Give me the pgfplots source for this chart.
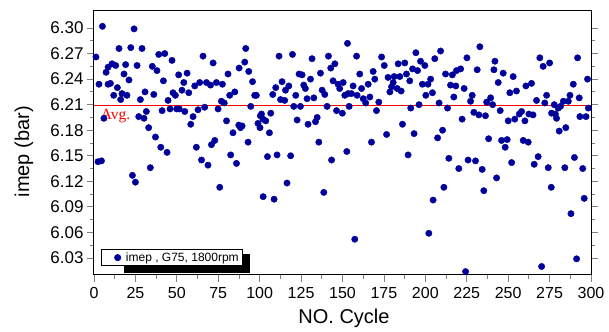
\documentclass[border=0pt]{standalone}
\usepackage{pgfplots}
\pgfplotsset{compat=1.18}
\usepackage{fontspec}
\setmainfont{Liberation Sans}
\newfontfamily\avgfont{Liberation Serif}
\definecolor{dotblue}{RGB}{0,0,155}
\begin{document}
\begin{tikzpicture}
\path (-94pt,-55pt) rectangle (515pt,275pt);
\begin{axis}[
  at={(0,0)}, anchor=south west,
  scale only axis, width=497pt, height=264pt,
  xmin=0, xmax=300, ymin=6.01, ymax=6.32,
  xtick={0,25,...,300},
  ytick={6.03,6.06,6.09,6.12,6.15,6.18,6.21,6.24,6.27,6.30},
  minor x tick num=1, minor y tick num=1,
  tick align=outside,
  xtick pos=left, ytick pos=both,
  major tick length=7pt, minor tick length=4pt,
  tick style={line width=0.8pt},
  axis line style={line width=1pt},
  /pgf/number format/assume math mode=true,
  yticklabel style={font=\fontsize{17}{20}\selectfont, /pgf/number format/.cd, fixed, fixed zerofill, precision=2},
  yticklabel pos=left,
  xticklabel style={font=\fontsize{16}{19}\selectfont, yshift=-2pt},
  xlabel={NO. Cycle}, ylabel={imep (bar)},
  label style={font=\fontsize{20}{23}\selectfont},
  xlabel style={at={(axis description cs:0.503,-0.165)}, anchor=center},
  ylabel style={at={(axis description cs:-0.141,0.467)}, anchor=center},
  legend style={at={(axis description cs:0.2998,0.034)}, anchor=south east,
    draw=black, line width=0.6pt, fill=white,
    font=\fontsize{12}{14}\selectfont, inner xsep=2pt, inner ysep=0.5pt,
    nodes={inner ysep=2.5pt},
    legend cell align=left},
  legend image code/.code={\path[draw=none] (0pt,0pt) -- (21pt,0pt); \draw[mark repeat=1,#1] plot coordinates {(14.7pt,0pt)};},
]
\fill[black] (axis description cs:0.06,0.0087) rectangle (axis description cs:0.3133,0.08);
\addplot [only marks, mark=*, mark size=3.2pt, color=dotblue] coordinates {
(1.2,6.266) (2.4,6.143) (3.0,6.234) (4.5,6.144) (5.1,6.302) (6.0,6.194) (7.3,6.248) (8.5,6.254)
(8.5,6.234) (9.9,6.235) (10.9,6.258) (11.9,6.221) (13.1,6.256) (14.1,6.230) (15.1,6.276) (16.1,6.216)
(16.9,6.223) (18.1,6.246) (19.1,6.257) (19.9,6.221) (21.1,6.239) (22.2,6.277) (23.2,6.127) (24.2,6.299)
(25.0,6.119) (26.0,6.256) (27.0,6.196) (28.0,6.216) (29.0,6.276) (30.2,6.194) (30.8,6.225) (31.6,6.202)
(33.0,6.183) (34.0,6.136) (35.2,6.255) (36.1,6.222) (37.1,6.172) (38.0,6.250) (39.1,6.269) (40.3,6.160)
(41.1,6.203) (41.9,6.238) (42.7,6.270) (44.1,6.154) (44.7,6.215) (45.9,6.205) (47.1,6.262) (47.7,6.224)
(49.1,6.221) (49.9,6.205) (51.1,6.245)
(51.5,6.205) (53.1,6.227) (54.2,6.236) (54.8,6.202) (56.2,6.247) (57.2,6.224) (58.4,6.187) (59.8,6.196)
(60.8,6.232) (61.8,6.160) (62.8,6.204) (63.8,6.236) (64.9,6.145) (65.8,6.267) (66.8,6.207) (67.9,6.236)
(68.8,6.139) (70.3,6.233) (70.9,6.163) (71.9,6.259) (72.9,6.168) (73.9,6.236) (74.9,6.205) (75.9,6.113)
(76.9,6.214) (77.5,6.234) (78.6,6.212) (80.0,6.191) (80.9,6.246) (81.9,6.221) (82.5,6.151) (83.9,6.177)
(85.0,6.225) (86.0,6.141) (87.4,6.186) (87.6,6.253) (88.4,6.183) (89.4,6.185) (91.0,6.260) (91.6,6.276)
(93.0,6.166) (93.4,6.249) (94.6,6.208) (95.7,6.237) (97.0,6.221) (98.0,6.221) (99.0,6.188) (100.4,6.197)
(102.0,6.193) (102.1,6.102)
(100.2,6.183) (101.1,6.199) (103.7,6.191) (104.7,6.149) (105.9,6.177) (106.7,6.200) (107.9,6.222) (108.7,6.099)
(109.7,6.230) (110.5,6.151) (111.7,6.267) (112.6,6.216) (113.5,6.237) (115.1,6.215) (115.6,6.227) (116.5,6.118)
(117.6,6.232) (118.7,6.150) (119.8,6.269) (120.6,6.208) (121.8,6.221) (122.6,6.192) (123.8,6.246) (124.6,6.208)
(125.6,6.245) (126.6,6.233) (127.6,6.229) (128.6,6.217) (129.2,6.187) (130.7,6.240) (131.6,6.264) (132.7,6.218)
(133.7,6.190) (134.7,6.195) (135.7,6.166) (136.7,6.247) (137.7,6.227) (138.7,6.107) (139.3,6.222) (140.7,6.208)
(141.5,6.267) (142.9,6.253) (143.4,6.145) (144.3,6.238) (145.4,6.258) (146.4,6.203) (147.3,6.234) (148.3,6.229)
(149.9,6.200) (150.4,6.236) (151.4,6.221) (152.6,6.155) (153.0,6.282) (153.4,6.223) (154.0,6.208)
(155.4,6.223) (156.4,6.232) (157.4,6.052) (158.5,6.267) (158.8,6.221) (160.4,6.246) (161.5,6.229) (162.5,6.217)
(164.0,6.212) (165.5,6.234) (166.5,6.219) (167.5,6.166) (168.5,6.249) (169.5,6.240) (170.5,6.203) (171.9,6.213)
(173.6,6.266) (175.2,6.256) (176.6,6.175) (177.5,6.242) (178.6,6.225) (179.6,6.231) (180.6,6.236) (181.2,6.243)
(183.0,6.229) (183.6,6.258) (184.6,6.243) (185.4,6.226) (186.2,6.187) (187.6,6.259) (188.6,6.246) (189.6,6.151)
(190.6,6.238) (191.2,6.206) (192.3,6.252) (193.2,6.176) (194.3,6.271) (195.3,6.250) (196.2,6.210) (197.1,6.261)
(198.2,6.234) (199.7,6.256) (200.3,6.221) (201.6,6.234) (202.1,6.059) (203.2,6.240) (204.3,6.224) (204.7,6.098)
(205.7,6.264)
(207.4,6.171) (208.3,6.212) (209.2,6.273) (210.4,6.180) (211.2,6.113) (212.2,6.246) (213.4,6.206) (214.2,6.147)
(215.2,6.233) (216.3,6.245) (217.2,6.219) (218.4,6.232) (218.8,6.250) (220.2,6.135) (221.3,6.252) (222.2,6.193)
(223.4,6.229) (224.3,6.014) (225.1,6.265) (225.8,6.145) (227.3,6.214) (228.3,6.221) (229.3,6.201) (230.3,6.144)
(231.3,6.251) (232.3,6.198) (232.9,6.278) (234.3,6.134) (235.3,6.109) (236.3,6.197) (237.0,6.213) (238.2,6.170)
(239.4,6.218) (240.6,6.210) (241.4,6.251) (242.0,6.261) (243.0,6.124) (244.0,6.236) (245.2,6.203) (246.0,6.168)
(247.0,6.247) (248.2,6.160) (249.4,6.169) (250.0,6.191) (251.0,6.224) (252.1,6.142) (253.0,6.243) (254.0,6.193)
(255.0,6.226) (256.7,6.199)
(258.1,6.202) (259.1,6.168) (260.1,6.191) (260.7,6.232) (262.1,6.166) (262.5,6.199) (264.1,6.235) (265.0,6.198)
(265.7,6.140) (267.1,6.215) (268.1,6.149) (269.1,6.265) (270.2,6.020) (271.1,6.255) (272.1,6.212) (273.2,6.221)
(274.2,6.136) (275.0,6.259) (276.0,6.113) (276.2,6.200) (277.8,6.210) (278.5,6.199) (279.2,6.194) (280.2,6.206)
(280.8,6.179) (281.6,6.208) (283.3,6.214) (284.2,6.136) (284.8,6.183) (286.3,6.214) (287.3,6.221) (287.9,6.082)
(289.3,6.234) (290.0,6.148) (291.3,6.029) (291.9,6.265) (292.9,6.218) (293.3,6.196) (295.0,6.135) (295.9,6.100)
(297.0,6.196) (297.9,6.240) (298.4,6.206)
};
\addlegendentry{imep , G75, 1800rpm}
\node[anchor=west, text=red, font=\avgfont\fontsize{15.5}{17}\selectfont, inner sep=0pt] at (axis cs:4,6.197) {Avg.};
\addplot [red, line width=1.3pt, mark=none, forget plot] coordinates {(0,6.2087) (300,6.2087)};
\end{axis}
\end{tikzpicture}
\end{document}
